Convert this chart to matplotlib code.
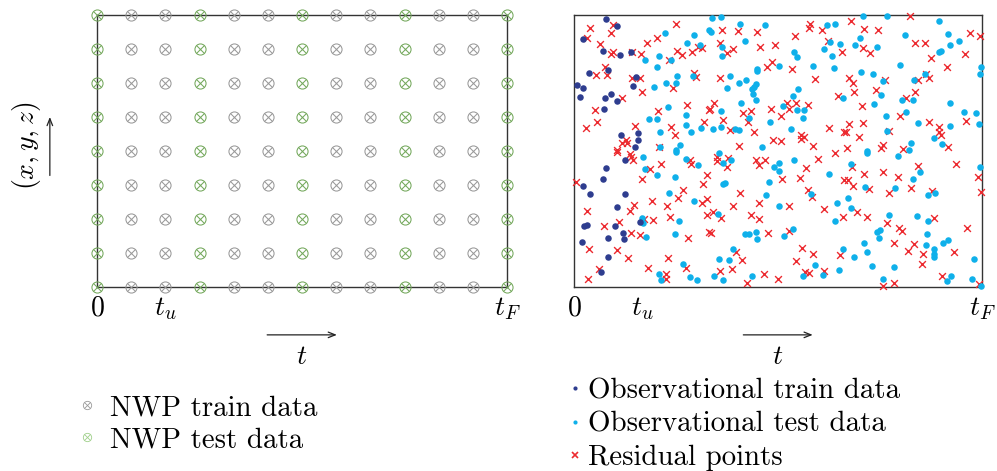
import matplotlib
matplotlib.use("Agg")
import matplotlib.pyplot as plt
from matplotlib.lines import Line2D
from matplotlib.legend_handler import HandlerTuple
import numpy as np

plt.rcParams['font.family'] = ['cmr10', 'DejaVu Serif']
plt.rcParams['mathtext.fontset'] = 'cm'
plt.rcParams['axes.formatter.use_mathtext'] = True

# ---------------- data ----------------
t_ticks = [0, 2, 12]
t_ticklabels = [r'$0$', r'$t_u$', r'$t_F$']

nwp_train_t = [1, 2, 4, 5, 7, 8, 10, 11]
nwp_test_t = [0, 3, 6, 9, 12]
nwp_z = [0, 1, 2, 3, 4, 5, 6, 7, 8]

obs_train_t = [0.93, 1.27, 0.25, 0.86, 1.35, 1.69, 1.00, 0.43, 0.10, 0.27, 0.18, 1.73,
               1.83, 1.10, 0.92, 1.26, 0.89, 1.39, 1.89, 1.89, 1.79,
               1.50, 0.93, 0.86, 0.26, 0.48, 1.50, 1.25, 1.94, 0.29, 0.37, 1.22,
               1.44, 1.00, 1.47, 0.23, 1.01, 0.78]
obs_train_z = [7.88, 7.69, 7.29, 6.95, 6.82, 6.92, 6.39, 6.28, 5.93, 5.84, 5.59, 5.91,
               6.19, 5.69, 5.55, 5.47, 5.25, 4.47, 4.54, 4.32, 4.11,
               3.75, 3.51, 3.18, 2.96, 2.73, 2.73, 2.34, 1.90, 1.78, 1.81, 1.78,
               1.60, 1.44, 1.41, 1.33, 0.89, 0.45]

obs_test_t = [2.68, 3.52, 3.96, 3.31, 3.71, 2.51, 2.08, 2.86, 2.45, 3.04, 3.50, 2.71, 2.99,
              2.35, 2.75, 3.29, 2.22, 2.44, 3.28, 3.73, 3.43, 2.54, 3.12, 2.99, 2.53,
              4.05, 4.31, 4.02, 4.88, 5.63, 7.45, 7.68, 5.03, 4.35, 4.35, 7.53, 7.82, 7.35,
              6.46, 6.55, 7.59, 6.04, 7.04, 7.64, 5.39, 5.37, 4.58, 5.06, 4.86, 5.35, 5.29,
              5.23, 4.51, 6.59, 5.25, 6.44, 5.35, 7.90, 4.91, 6.16, 6.57, 6.76, 4.33, 6.73,
              5.14, 5.75, 4.10, 4.33, 4.73, 4.86, 6.37, 5.53,
              8.49, 9.22, 10.73, 11.00, 9.73, 8.42, 8.27, 8.91, 11.33, 11.07, 10.73, 10.80,
              9.59, 11.96, 11.94, 8.45, 8.80, 10.33, 10.00, 9.10, 9.04, 9.65, 9.98, 8.81,
              11.07, 9.75, 11.48, 11.83, 9.17, 10.12, 11.05, 11.92, 9.22, 10.60, 9.92,
              10.82, 9.84, 8.61,
              2.04, 2.99, 3.28, 3.65, 2.08, 2.43, 2.97, 2.79, 3.53, 2.00, 2.03, 3.08, 2.11,
              2.98, 3.22, 2.51, 2.57, 3.41, 3.62,
              4.25, 4.37, 4.62, 5.88, 6.04, 6.04, 6.48, 7.49, 4.37, 4.44, 5.73, 5.66, 6.96,
              7.74, 6.04, 4.24, 7.67, 5.03, 5.16, 5.36, 5.38, 6.43, 6.19, 4.69, 4.25, 4.57,
              7.92, 7.10, 7.78, 4.12, 4.38, 5.23, 6.73, 7.33,
              8.61, 9.52, 8.14, 11.95, 10.17, 9.97, 8.56, 9.44, 10.42, 10.63, 8.06, 8.14,
              9.26, 10.09, 10.40, 8.99, 8.91, 8.96, 10.39, 8.53, 10.36, 11.01, 10.84, 10.60,
              8.63, 10.59, 10.59, 8.23, 11.75, 8.76, 9.42, 11.09, 10.97, 9.10, 11.71, 11.96]
obs_test_z = [7.46, 7.41, 7.56, 7.17, 7.12, 6.79, 6.68, 6.67, 6.46, 6.21, 6.21, 5.99, 5.99,
              5.89, 5.29, 5.06, 4.94, 4.94, 4.76, 4.67, 4.57, 4.55, 4.18, 4.03, 4.13,
              7.92, 7.95, 7.51, 7.75, 7.71, 7.71, 7.75, 7.25, 7.07, 6.80, 7.20, 7.14, 7.01,
              6.92, 6.76, 6.80, 6.49, 6.49, 6.45, 6.41, 6.35, 6.22, 6.08, 6.00, 5.98, 5.88,
              5.82, 5.86, 5.82, 5.67, 5.63, 5.51, 5.57, 5.41, 5.31, 5.22, 5.22, 5.18, 4.96,
              4.96, 4.84, 4.65, 4.71, 4.65, 4.61, 4.65, 4.13,
              7.97, 7.97, 7.82, 7.45, 7.41, 7.32, 7.11, 7.05, 7.25, 7.11, 6.92, 6.94,
              6.53, 6.46, 6.26, 6.32, 6.27, 6.27, 6.08, 6.06, 5.65, 5.49, 5.49, 5.37,
              5.41, 5.14, 5.16, 5.12, 5.04, 4.83, 4.74, 4.79, 4.59, 4.37, 4.24,
              4.21, 4.04, 4.00,
              3.82, 3.98, 3.77, 3.58, 3.46, 3.29, 3.25, 2.76, 2.54, 2.02, 1.88, 1.93, 1.48,
              1.56, 0.67, 0.38, 0.22, 0.28, 0.20,
              3.95, 3.66, 3.73, 3.53, 3.64, 3.40, 3.73, 3.31, 3.02, 3.05, 3.08, 2.71, 2.73,
              2.48, 2.37, 2.16, 1.94, 1.57, 1.57, 1.61, 1.42, 1.72, 1.49, 1.11, 0.83, 0.78,
              1.11, 0.65, 0.51, 0.31, 0.20, 0.31, 0.33, 0.34,
              3.95, 3.85, 3.63, 3.54, 3.39, 3.17, 2.95, 2.92, 2.70, 2.76, 2.63, 2.31,
              2.11, 2.09, 1.95, 1.67, 1.63, 1.43, 1.57, 1.28, 1.24, 1.38, 1.29, 1.13,
              1.02, 0.96, 0.88, 0.88, 0.83, 0.62, 0.59, 0.31, 0.17, 0.25, 0.24, 0.03]

resid_t = [0.47, 1.14, 1.08, 0.39, 0.75, 1.16, 1.10, 1.70, 1.96, 2.16, 2.45, 3.00, 3.02, 3.19,
           2.79, 3.46, 3.65, 3.77, 0.90, 0.98, 0.65, 1.72, 1.93, 2.01, 1.42, 3.52, 3.58, 2.92,
           3.31, 0.63, 2.46, 0.67, 3.82, 0.35, 1.78, 2.86, 2.98, 1.42, 1.54, 1.57, 2.50, 1.25,
           3.96,
           4.35, 4.81, 5.39, 6.94, 6.90, 7.29, 6.49, 7.48, 7.87, 4.29, 5.47, 5.92, 4.69, 4.51,
           5.82, 5.69, 6.42, 7.10, 4.29, 7.75, 4.13, 4.00, 5.78, 6.25, 6.54, 6.33, 6.87, 6.08,
           4.98, 5.20, 4.37, 5.13, 4.59, 5.28, 7.49, 7.94, 6.67, 6.76, 6.67, 5.84, 6.08, 4.85,
           7.04,
           8.16, 9.89, 8.52, 8.93, 11.66, 11.95, 10.02, 10.33, 8.49, 8.71, 10.51, 11.50, 10.97,
           8.10, 8.22, 9.16, 10.35, 10.45, 10.12, 8.24, 8.88, 10.02, 9.77, 8.47, 9.60, 10.45,
           11.53, 8.08, 8.51, 10.73, 10.73, 10.79, 8.00, 9.25, 8.37, 9.08, 9.04, 9.67, 11.00,
           8.02,
           1.25, 1.64, 1.67, 1.73, 2.24, 2.55, 3.41, 3.45, 3.92, 0.06, 1.99, 3.80, 3.21, 2.29,
           3.07, 3.77, 3.92, 2.73, 1.77, 1.65, 0.39, 2.81, 3.92, 2.32, 2.07, 1.33, 0.89, 1.67,
           1.94, 3.34, 3.96, 0.44, 1.25, 1.59, 2.75, 2.19, 3.29, 0.74, 0.41, 2.71, 2.71,
           4.20, 4.22, 4.54, 4.49, 5.35, 5.62, 5.45, 7.17, 7.69, 6.81, 6.12, 6.64, 7.95, 4.88,
           6.89, 6.99, 5.43, 4.67, 6.33, 7.34, 4.10, 4.32, 5.21, 5.43, 7.90, 4.03, 5.70, 6.33,
           6.70, 7.04, 7.81, 4.76, 4.94, 6.53, 4.30, 4.64, 6.78, 6.91, 7.35, 5.58, 6.01, 5.08,
           8.17, 10.12, 11.24, 8.53, 9.09, 9.52, 11.88, 8.05, 8.21, 8.69, 9.25, 9.91, 10.54,
           11.96, 8.32, 8.62, 10.59, 9.22, 9.57, 9.65, 11.55, 9.41, 10.00, 9.82, 10.27, 11.17,
           10.24, 10.82, 9.42, 9.10, 11.90]
resid_z = [7.61, 7.71, 7.46, 7.33, 7.14, 6.90, 6.84, 6.92, 6.84, 7.17, 7.31, 7.75, 6.94, 6.82,
           6.68, 6.90, 7.05, 7.04, 6.48, 6.24, 6.25, 6.16, 6.14, 5.75, 5.55, 6.28, 6.19, 5.85,
           5.34, 5.20, 5.18, 4.86, 4.86, 4.68, 4.73, 4.71, 4.47, 4.25, 4.32, 4.23, 4.13, 4.03,
           5.21,
           7.56, 7.53, 7.51, 7.73, 7.61, 7.55, 7.37, 7.25, 6.92, 7.17, 7.06, 7.12, 7.01, 6.87,
           6.63, 6.48, 6.42, 6.12, 6.14, 5.62, 5.41, 5.23, 5.25, 5.40, 5.41, 5.24, 5.35, 5.04,
           5.12, 5.18, 4.92, 4.86, 4.63, 4.55, 4.69, 4.57, 4.47, 4.41, 4.35, 4.32, 4.30, 4.16,
           4.14,
           7.82, 7.98, 7.60, 7.56, 7.47, 7.39, 7.19, 7.19, 7.02, 6.87, 6.75, 6.85, 6.48,
           6.14, 5.99, 6.10, 6.27, 6.14, 6.10, 5.75, 5.80, 5.73, 5.56, 5.33, 5.04, 4.86,
           4.88, 4.79, 4.81, 4.72, 4.57, 4.47, 4.57, 4.59, 4.40, 4.18, 4.08, 4.05, 4.11,
           4.08,
           3.97, 3.90, 3.82, 3.74, 3.46, 3.63, 3.74, 3.63, 3.29, 3.08, 3.18, 3.02, 2.86, 2.54,
           2.62, 2.48, 2.60, 2.38, 2.40, 2.25, 2.25, 2.05, 2.11, 1.98, 2.01, 1.92, 1.78, 1.59,
           1.53, 1.43, 1.61, 1.13, 1.08, 0.84, 0.84, 0.55, 0.55, 0.52, 0.25, 0.37, 0.25,
           3.82, 3.71, 3.80, 3.53, 3.75, 3.75, 3.58, 3.77, 3.95, 3.51, 3.18, 3.22, 3.14, 2.76,
           2.85, 2.66, 2.46, 2.39, 2.38, 2.29, 2.21, 2.02, 2.11, 2.01, 2.06, 1.60, 1.60, 1.64,
           1.16, 0.98, 0.95, 1.03, 0.80, 0.76, 0.47, 0.52, 0.45, 0.42, 0.47, 0.37, 0.25, 0.12,
           3.53, 3.57, 3.61, 3.33, 3.38, 3.25, 3.25, 3.14, 2.98, 2.89, 2.77, 2.90, 2.82,
           2.79, 2.21, 2.06, 2.04, 1.89, 1.73, 1.65, 1.74, 1.30, 1.27, 1.06, 0.96, 1.03,
           0.67, 0.32, 0.13, 0.04, 0.10]

# ---------------- styles ----------------
c_nwp_train = '#999999'
c_nwp_test = '#74a85c'
c_obs_train = '#2e3d8f'
c_obs_test = '#0fb0ea'
c_resid = '#ec2a2f'
spine_c = '#333333'


def otimes(ax, t, z, color, ms):
    ax.plot(t, z, linestyle='none', marker='o', ms=ms, mfc='none', mec=color,
            mew=0.75, clip_on=False, zorder=3)
    ax.plot(t, z, linestyle='none', marker='x', ms=ms * 0.7, mec=color,
            mew=0.75, clip_on=False, zorder=3)


def otimes_handle(color, ms):
    return (Line2D([], [], linestyle='none', marker='o', ms=ms, mfc='none', mec=color, mew=0.6),
            Line2D([], [], linestyle='none', marker='x', ms=ms * 0.7, mec=color, mew=0.6))


fig = plt.figure(figsize=(9.97, 4.71), dpi=100)
ax1 = fig.add_axes([97/997, 184/471, 410/997, 272/471])
ax2 = fig.add_axes([574/997, 184/471, 408/997, 272/471])

# left panel
TT, ZZ = np.meshgrid(nwp_train_t, nwp_z)
otimes(ax1, TT.ravel(), ZZ.ravel(), c_nwp_train, 8.0)
TT, ZZ = np.meshgrid(nwp_test_t, nwp_z)
otimes(ax1, TT.ravel(), ZZ.ravel(), c_nwp_test, 8.0)

# right panel
ax2.scatter(resid_t, resid_z, marker='x', s=24, linewidths=1.0, color=c_resid,
            clip_on=False, zorder=3)
ax2.scatter(obs_test_t, obs_test_z, marker='o', s=22, linewidths=0, color=c_obs_test,
            clip_on=False, zorder=3)
ax2.scatter(obs_train_t, obs_train_z, marker='o', s=22, linewidths=0, color=c_obs_train,
            clip_on=False, zorder=3)

for ax in (ax1, ax2):
    ax.set_xlim(0, 12)
    ax.set_ylim(0, 8)
    ax.set_xticks(t_ticks)
    ax.set_xticklabels(t_ticklabels, fontsize=20)
    ax.set_yticks([])
    ax.tick_params(axis='x', length=0, pad=6)
    for s in ax.spines.values():
        s.set_color(spine_c)
        s.set_linewidth(1.0)
    ax.annotate('', xy=(0.585, -0.176), xytext=(0.415, -0.176), xycoords='axes fraction',
                arrowprops=dict(arrowstyle='->,head_length=0.5,head_width=0.2', lw=0.9,
                                color='#222222', shrinkA=0, shrinkB=0))
    ax.text(0.5, -0.255, r'$t$', transform=ax.transAxes, fontsize=20,
            ha='center', va='center')

# y label with arrow
ax1.text(-0.172, 0.52, r'$(x,y,z)$', transform=ax1.transAxes, fontsize=20,
         rotation=90, ha='center', va='center')
ax1.annotate('', xy=(-0.115, 0.625), xytext=(-0.115, 0.41), xycoords='axes fraction',
             arrowprops=dict(arrowstyle='->,head_length=0.5,head_width=0.2', lw=0.9,
                             color='#222222', shrinkA=0, shrinkB=0))

# legends
fs_leg = 20.8
h1 = [otimes_handle('#9a9a9a', 6.0), otimes_handle('#9fd08a', 6.0)]
ax1.legend(h1, ['NWP train data', 'NWP test data'], loc='upper left',
           bbox_to_anchor=(-0.052, -0.396), frameon=False, fontsize=fs_leg,
           handlelength=0.8, handletextpad=0.4, borderpad=0, borderaxespad=0,
           labelspacing=0.21, handler_map={tuple: HandlerTuple(ndivide=1, pad=0)})

h2 = [Line2D([], [], linestyle='none', marker='o', ms=3, mew=0, color=c_obs_train),
      Line2D([], [], linestyle='none', marker='o', ms=3, mew=0, color=c_obs_test),
      Line2D([], [], linestyle='none', marker='x', ms=4, mew=1.2, color=c_resid)]
ax2.legend(h2, ['Observational train data', 'Observational test data', 'Residual points'],
           loc='upper left', bbox_to_anchor=(-0.012, -0.335), frameon=False, fontsize=fs_leg,
           handlelength=0.4, handletextpad=0.25, borderpad=0, borderaxespad=0,
           labelspacing=0.24)

fig.savefig('out.png', dpi=100)
